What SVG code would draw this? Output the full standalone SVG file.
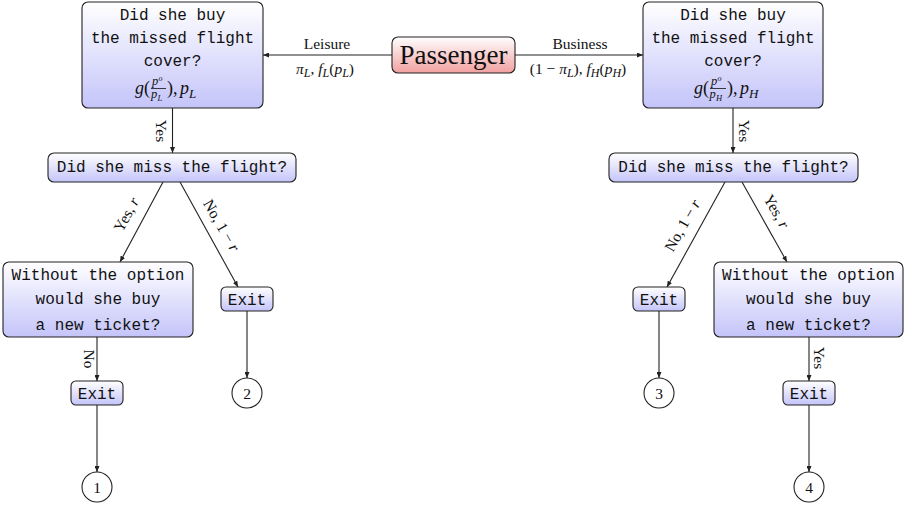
<svg xmlns="http://www.w3.org/2000/svg" width="905" height="505" viewBox="0 0 905 505">
<defs>
<linearGradient id="gb" x1="0" y1="0" x2="0" y2="1"><stop offset="0" stop-color="#ffffff"/><stop offset="1" stop-color="#c4c4fa"/></linearGradient>
<linearGradient id="gr" x1="0" y1="0" x2="0" y2="1"><stop offset="0" stop-color="#ffffff"/><stop offset="1" stop-color="#f2a0a0"/></linearGradient>
<marker id="ar" viewBox="0 0 6 5" refX="6" refY="2.5" markerWidth="6" markerHeight="5" markerUnits="userSpaceOnUse" orient="auto"><path d="M0,0 L6,2.5 L0,5 z" fill="#222"/></marker>
</defs>
<style>
.box{fill:url(#gb);stroke:#222;stroke-width:1.1}
.pbox{fill:url(#gr);stroke:#222;stroke-width:1.1}
.tt{font-family:"Liberation Mono","DejaVu Sans Mono",monospace;font-size:16px;fill:#111;text-anchor:middle}
.rm{font-family:"Liberation Serif","DejaVu Serif",serif;font-size:15.5px;fill:#111;text-anchor:middle}
.mi{font-family:"Liberation Serif","DejaVu Serif",serif;font-style:italic;fill:#111}
.mr{font-family:"Liberation Serif","DejaVu Serif",serif;fill:#111}
.cn{fill:none;stroke:#222;stroke-width:1.1;marker-end:url(#ar)}
.circ{fill:#fff;stroke:#222;stroke-width:1.1}
</style>

<g id="connectors">
<path class="cn" d="M392,55 L263,55"/>
<path class="cn" d="M515,55 L643,55"/>
<path class="cn" d="M172.5,108 L172.5,153"/>
<path class="cn" d="M733,108 L733,153"/>
<path class="cn" d="M163,182 L120,262"/>
<path class="cn" d="M180,182 L238,287"/>
<path class="cn" d="M97,337 L97,381"/>
<path class="cn" d="M97,405 L97,472"/>
<path class="cn" d="M247,311 L247,378"/>
<path class="cn" d="M725,182 L667,287"/>
<path class="cn" d="M742,182 L787,262"/>
<path class="cn" d="M659,311 L659,378"/>
<path class="cn" d="M809,337 L809,381"/>
<path class="cn" d="M809,405 L809,472"/>
<text class="rm" x="327" y="49">Leisure</text>
<text class="rm" x="325" y="74" font-size="17"><tspan class="mi">π</tspan><tspan class="mi" font-size="12" dy="3">L</tspan><tspan class="mr" dy="-3">, </tspan><tspan class="mi">f</tspan><tspan class="mi" font-size="12" dy="3">L</tspan><tspan class="mr" dy="-3">(</tspan><tspan class="mi">p</tspan><tspan class="mi" font-size="12" dy="3">L</tspan><tspan class="mr" dy="-3">)</tspan></text>
<text class="rm" x="580" y="49">Business</text>
<text class="rm" x="578" y="74" font-size="17"><tspan class="mr">(1 − </tspan><tspan class="mi">π</tspan><tspan class="mi" font-size="12" dy="3">L</tspan><tspan class="mr" dy="-3">), </tspan><tspan class="mi">f</tspan><tspan class="mi" font-size="12" dy="3">H</tspan><tspan class="mr" dy="-3">(</tspan><tspan class="mi">p</tspan><tspan class="mi" font-size="12" dy="3">H</tspan><tspan class="mr" dy="-3">)</tspan></text>
<text class="rm" transform="translate(156,131) rotate(90)">Yes</text>
<text class="rm" transform="translate(739,131) rotate(90)">Yes</text>
<text class="rm" transform="translate(84,359) rotate(90)">No</text>
<text class="rm" transform="translate(814,358) rotate(90)">Yes</text>
<text class="rm" transform="translate(131,217) rotate(-61.4)"><tspan class="mr">Yes, </tspan><tspan class="mi">r</tspan></text>
<text class="rm" transform="translate(217,228) rotate(60)"><tspan class="mr">No, 1 − </tspan><tspan class="mi">r</tspan></text>
<text class="rm" transform="translate(687,228) rotate(-60.6)"><tspan class="mr">No, 1 − </tspan><tspan class="mi">r</tspan></text>
<text class="rm" transform="translate(772,214) rotate(60.3)"><tspan class="mr">Yes, </tspan><tspan class="mi">r</tspan></text>
</g>

<g id="passenger">
<rect class="pbox" x="392" y="37" width="123" height="36" rx="6"/>
<text class="mr" x="453.5" y="64" font-size="27" text-anchor="middle">Passenger</text>
</g>

<g id="cover-L">
<rect class="box" x="82" y="2" width="181" height="106" rx="6"/>
<text class="tt" x="172.5" y="20">Did she buy</text>
<text class="tt" x="172.5" y="43">the missed flight</text>
<text class="tt" x="172.5" y="66">cover?</text>
<text class="mi" x="135" y="94" font-size="18">g</text>
<text class="mr" x="144" y="94" font-size="18">(</text>
<text class="mi" x="152" y="85" font-size="12.5">p</text>
<text class="mi" x="158.5" y="80.5" font-size="8">o</text>
<line x1="151" y1="88.5" x2="166" y2="88.5" stroke="#111" stroke-width="0.8"/>
<text class="mi" x="151" y="98" font-size="12.5">p</text>
<text class="mi" x="157.5" y="100.5" font-size="8.5">L</text>
<text class="mr" x="167" y="94" font-size="18">),</text>
<text class="mi" x="180" y="94" font-size="18">p</text>
<text class="mi" x="189" y="98" font-size="13">L</text>
</g>

<g id="cover-H">
<rect class="box" x="643" y="2" width="180" height="106" rx="6"/>
<text class="tt" x="733" y="20">Did she buy</text>
<text class="tt" x="733" y="43">the missed flight</text>
<text class="tt" x="733" y="66">cover?</text>
<g transform="translate(559,0)">
<text class="mi" x="135" y="94" font-size="18">g</text>
<text class="mr" x="144" y="94" font-size="18">(</text>
<text class="mi" x="152" y="85" font-size="12.5">p</text>
<text class="mi" x="158.5" y="80.5" font-size="8">o</text>
<line x1="151" y1="88.5" x2="167" y2="88.5" stroke="#111" stroke-width="0.8"/>
<text class="mi" x="150.5" y="98" font-size="12.5">p</text>
<text class="mi" x="157" y="100.5" font-size="8.5">H</text>
<text class="mr" x="168" y="94" font-size="18">),</text>
<text class="mi" x="181" y="94" font-size="18">p</text>
<text class="mi" x="190" y="98" font-size="13">H</text>
</g>
</g>

<g id="miss-L">
<rect class="box" x="48" y="153" width="248" height="29" rx="6"/>
<text class="tt" x="172" y="172">Did she miss the flight?</text>
</g>
<g id="miss-H">
<rect class="box" x="609" y="153" width="249" height="29" rx="6"/>
<text class="tt" x="733.5" y="172">Did she miss the flight?</text>
</g>

<g id="without-L">
<rect class="box" x="3" y="262" width="190" height="75" rx="6"/>
<text class="tt" x="98" y="280">Without the option</text>
<text class="tt" x="98" y="304">would she buy</text>
<text class="tt" x="98" y="330">a new ticket?</text>
</g>
<g id="without-H">
<rect class="box" x="714" y="262" width="189" height="75" rx="6"/>
<text class="tt" x="808.5" y="280">Without the option</text>
<text class="tt" x="808.5" y="304">would she buy</text>
<text class="tt" x="808.5" y="330">a new ticket?</text>
</g>

<g id="exit-L1">
<rect class="box" x="221" y="287" width="52" height="24" rx="5"/>
<text class="tt" x="247" y="305">Exit</text>
</g>
<g id="exit-L2">
<rect class="box" x="71" y="381" width="52" height="24" rx="5"/>
<text class="tt" x="97" y="399">Exit</text>
</g>
<g id="exit-H1">
<rect class="box" x="633" y="287" width="52" height="24" rx="5"/>
<text class="tt" x="659" y="305">Exit</text>
</g>
<g id="exit-H2">
<rect class="box" x="783" y="381" width="52" height="24" rx="5"/>
<text class="tt" x="809" y="399">Exit</text>
</g>

<g id="end-1"><circle class="circ" cx="97" cy="487" r="15"/><text class="rm" x="97" y="492.5">1</text></g>
<g id="end-2"><circle class="circ" cx="247" cy="393" r="15"/><text class="rm" x="247" y="398.5">2</text></g>
<g id="end-3"><circle class="circ" cx="659" cy="393" r="15"/><text class="rm" x="659" y="398.5">3</text></g>
<g id="end-4"><circle class="circ" cx="809" cy="487" r="15"/><text class="rm" x="809" y="492.5">4</text></g>
</svg>
